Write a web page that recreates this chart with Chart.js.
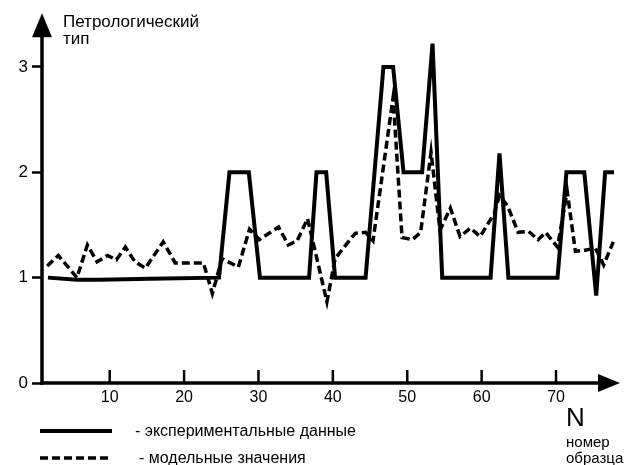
<!DOCTYPE html>
<html><head><meta charset="utf-8">
<script src="https://cdn.jsdelivr.net/npm/chart.js@4/dist/chart.umd.min.js"></script>
<style>html,body{margin:0;padding:0;background:#fff}#wrap{width:642px;height:465px;position:relative}</style>
</head><body><div id="wrap"><canvas id="c" width="642" height="465"></canvas></div>
<script>
const xTicks = [10, 20, 30, 40, 50, 60, 70];
const yTicks = [0, 1, 2, 3];
const expX = [1.7, 5.6, 8.7, 15.4, 24.7, 26.1, 28.7, 30.2, 36.8, 37.8, 39.1, 40.3, 44.4, 46.8, 48.1, 49.5, 52.0, 53.4, 54.7, 61.2, 62.4, 63.6, 70.2, 71.4, 73.8, 75.4, 76.6, 77.8];
const expY = [1.0, 0.98, 0.98, 0.99, 1.0, 2.0, 2.0, 1.0, 1.0, 2.0, 2.0, 1.0, 1.0, 3.0, 3.0, 2.0, 2.0, 3.22, 1.0, 1.0, 2.18, 1.0, 1.0, 2.0, 2.0, 0.83, 2.0, 2.0];
const modX = [1.6, 3.1, 5.6, 7.0, 8.3, 9.7, 10.9, 12.1, 13.4, 14.8, 17.2, 18.8, 22.6, 23.8, 25.1, 27.3, 28.8, 30.1, 32.7, 34.0, 35.2, 36.6, 39.2, 40.3, 42.3, 43.0, 44.4, 45.4, 48.1, 49.3, 50.7, 51.8, 53.2, 54.4, 55.8, 57.1, 58.5, 59.8, 61.7, 62.4, 63.5, 64.9, 66.3, 67.6, 68.6, 70.2, 71.5, 72.6, 73.9, 75.3, 76.4, 77.7];
const modY = [1.11, 1.21, 1.00, 1.31, 1.15, 1.21, 1.17, 1.29, 1.15, 1.09, 1.34, 1.14, 1.14, 0.85, 1.18, 1.10, 1.46, 1.36, 1.48, 1.31, 1.35, 1.56, 0.77, 1.18, 1.36, 1.42, 1.43, 1.35, 2.71, 1.38, 1.36, 1.43, 2.19, 1.45, 1.66, 1.39, 1.47, 1.39, 1.61, 1.78, 1.68, 1.43, 1.44, 1.36, 1.43, 1.29, 1.82, 1.25, 1.26, 1.28, 1.12, 1.34];
const seriesNames = ['- экспериментальные данные', '- модельные значения'];
const yTitle = ['Петрологический', 'тип'];
const xTitle = 'N';
const xSub = ['номер', 'образца'];
const FAM = '"Liberation Sans", Arial, Helvetica, sans-serif';

const decor = {
  id: 'decor',
  beforeDatasetsDraw(chart) {
    const {ctx, chartArea: a} = chart;
    const xs = chart.scales.x;
    ctx.save();
    ctx.strokeStyle = '#000'; ctx.fillStyle = '#000'; ctx.lineCap = 'butt';
    ctx.lineWidth = 3.5;
    ctx.beginPath(); ctx.moveTo(a.left, a.bottom + 1.75); ctx.lineTo(a.left, a.top + 18); ctx.stroke();
    ctx.beginPath(); ctx.moveTo(a.left, a.top - 1); ctx.lineTo(a.left - 10, a.top + 23); ctx.lineTo(a.left + 10, a.top + 23); ctx.closePath(); ctx.fill();
    ctx.beginPath(); ctx.moveTo(a.left - 1.75, a.bottom); ctx.lineTo(a.right - 18, a.bottom); ctx.stroke();
    ctx.beginPath(); ctx.moveTo(a.right, a.bottom); ctx.lineTo(a.right - 22, a.bottom - 9); ctx.lineTo(a.right - 22, a.bottom + 9); ctx.closePath(); ctx.fill();
    ctx.lineWidth = 2.5;
    xTicks.forEach(v => {
      const px = xs.getPixelForValue(v);
      ctx.beginPath(); ctx.moveTo(px, a.bottom); ctx.lineTo(px, a.bottom - 13); ctx.stroke();
    });
    ctx.restore();
  },
  afterDraw(chart) {
    const {ctx} = chart;
    ctx.save();
    ctx.fillStyle = '#000';
    ctx.textBaseline = 'alphabetic'; ctx.textAlign = 'left';
    ctx.font = '17px ' + FAM;
    ctx.fillText(yTitle[0], 63, 27);
    ctx.fillText(yTitle[1], 63, 44);
    ctx.font = '26px ' + FAM;
    ctx.fillText(xTitle, 566, 426);
    ctx.font = '15px ' + FAM;
    ctx.fillText(xSub[0], 566, 447);
    ctx.fillText(xSub[1], 566, 463);
    const ds = chart.data.datasets;
    const rows = [431, 458];
    ds.forEach((d, i) => {
      ctx.save();
      ctx.strokeStyle = d.borderColor; ctx.lineWidth = d.borderWidth;
      ctx.setLineDash(d.borderDash || []);
      ctx.beginPath(); ctx.moveTo(40, rows[i]); ctx.lineTo(112, rows[i]); ctx.stroke();
      ctx.restore();
      ctx.font = '16px ' + FAM;
      ctx.fillText(seriesNames[i], i === 0 ? 135 : 139, rows[i] + 5);
    });
    ctx.restore();
  }
};

new Chart(document.getElementById('c'), {
  type: 'line',
  data: {
    datasets: [
      { label: seriesNames[0], data: expX.map((x, i) => ({x, y: expY[i]})), borderColor: '#000', borderWidth: 4, pointRadius: 0, tension: 0, borderJoinStyle: 'miter', fill: false, clip: false },
      { label: seriesNames[1], data: modX.map((x, i) => ({x, y: modY[i]})), borderColor: '#000', borderWidth: 3.5, borderDash: [8, 4], pointRadius: 0, tension: 0, borderJoinStyle: 'miter', fill: false, clip: false }
    ]
  },
  options: {
    responsive: false, animation: false, events: [],
    layout: { padding: { top: 14, right: 22, left: 0, bottom: 0 } },
    plugins: { legend: { display: false }, tooltip: { enabled: false } },
    scales: {
      x: {
        type: 'linear', min: 0.9, max: 78.6,
        afterBuildTicks: s => { s.ticks = xTicks.map(v => ({value: v})); },
        afterFit: s => { s.height = 82; },
        grid: { display: false, drawTicks: false }, border: { display: false },
        ticks: { color: '#000', font: { family: FAM, size: 16 }, padding: 5, maxRotation: 0, autoSkip: false }
      },
      y: {
        type: 'linear', min: 0, max: 3.5,
        afterBuildTicks: s => { s.ticks = yTicks.map(v => ({value: v})); },
        afterFit: s => { s.width = 42; },
        grid: { drawOnChartArea: false, drawTicks: true, tickLength: 10, tickWidth: 2.5, tickColor: '#000', color: '#000' },
        border: { display: false },
        ticks: { color: '#000', font: { family: FAM, size: 17 }, padding: 4 }
      }
    }
  },
  plugins: [decor]
});
</script></body></html>
